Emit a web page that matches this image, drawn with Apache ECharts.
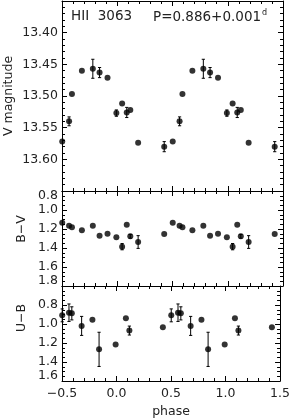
<!DOCTYPE html>
<html><head><meta charset="utf-8">
<script src="https://cdn.jsdelivr.net/npm/echarts@6/dist/echarts.min.js"></script>
<style>html,body{margin:0;padding:0;background:#fff}#c{width:293px;height:419px}</style>
</head><body><div id="c"></div>
<script>
// phase-folded points (each observation shown at phase and phase+1 where in range)
const phase = [-0.498,-0.436,-0.410,-0.320,-0.221,-0.160,-0.088,-0.008,0.044,0.086,0.118,0.189,0.425,
               0.502,0.564,0.590,0.680,0.779,0.840,0.912,0.992,1.044,1.086,1.118,1.189,1.425];
const vMag  = [13.572,13.540,13.497,13.460,13.457,13.463,13.471,13.527,13.512,13.526,13.522,13.574,13.580,
               13.572,13.540,13.497,13.460,13.457,13.463,13.471,13.527,13.512,13.526,13.522,13.574,13.580];
const vErr  = [0,0.007,0,0,0.015,0.008,0,0.005,0,0.008,0,0,0.008,
               0,0.007,0,0,0.015,0.008,0,0.005,0,0.008,0,0,0.008];
const bv    = [1.133,1.165,1.182,1.214,1.165,1.270,1.249,1.287,1.386,1.155,1.277,1.337,1.253,
               1.133,1.165,1.182,1.214,1.165,1.270,1.249,1.287,1.386,1.155,1.277,1.337,1.253];
const bvErr = [0,0,0,0,0,0,0,0,0.033,0,0.020,0.067,0,
               0,0,0,0,0,0,0,0,0.033,0,0.020,0.067,0];
const ub    = [0.909,0.881,0.888,1.020,0.954,1.267,null,1.215,null,0.940,1.069,null,1.034,
               0.909,0.881,0.888,1.020,0.954,1.267,null,1.215,null,0.940,1.069,null,1.034];
const ubErr = [0.068,0.092,0.069,0.100,0,0.180,0,0,0,0,0.047,0,0,
               0.068,0.092,0.069,0.100,0,0.180,0,0,0,0,0.047,0,0];
const phaseRange = [-0.5, 1.5, 0.5];
const vRange  = [13.35, 13.65, 0.05];
const bvRange = [0.8, 1.8, 0.2];
const ubRange = [0.6, 1.6, 0.2];
const yNames = ['V magnitude', 'B\u2212V', 'U\u2212B'];
const titleStar = 'HII  3063';
const titlePeriod = 'P=0.886+0.001';

const FONT = 'DejaVu Sans';
const TXT = '#222';
const chart = echarts.init(document.getElementById('c'), null, {renderer: 'canvas'});

const grids = [
  {left: 62, width: 221, top: 1, height: 190},
  {left: 62, width: 221, top: 191, height: 95},
  {left: 62, width: 221, top: 286, height: 96}
];
const lineStyle = {color: '#000', width: 1};

const xAxes = [];
grids.forEach((g, i) => {
  ['bottom', 'top'].forEach(pos => {
    xAxes.push({
      type: 'value', gridIndex: i, position: pos,
      min: phaseRange[0], max: phaseRange[1], interval: phaseRange[2],
      axisLine: {show: true, onZero: false, lineStyle},
      axisTick: {show: true, inside: true, length: 5, lineStyle},
      minorTick: {show: true, splitNumber: 5, length: 3, lineStyle},
      splitLine: {show: false},
      axisLabel: (i === 2 && pos === 'bottom') ? {
        show: true, margin: 6, color: TXT, fontFamily: FONT, fontSize: 12.5,
        formatter: v => v.toFixed(1).replace('-', '\u2212')
      } : {show: false},
      name: (i === 2 && pos === 'bottom') ? 'phase' : '',
      nameLocation: 'middle', nameGap: 24,
      nameTextStyle: {color: TXT, fontFamily: FONT, fontSize: 12.5}
    });
  });
});

const ranges = [vRange, bvRange, ubRange];
const yAxes = [];
grids.forEach((g, i) => {
  const r = ranges[i];
  ['left', 'right'].forEach(pos => {
    const lbl = pos === 'left';
    yAxes.push({
      type: 'value', gridIndex: i, position: pos, inverse: true,
      min: r[0], max: r[1], interval: r[2],
      axisLine: {show: true, onZero: false, lineStyle},
      axisTick: {show: true, inside: true, length: 5, lineStyle},
      minorTick: {show: true, splitNumber: i === 0 ? 5 : 4, length: 3, lineStyle},
      splitLine: {show: false},
      axisLabel: lbl ? {
        show: true, margin: 4, color: TXT, fontFamily: FONT, fontSize: 12.5, lineHeight: 10,
        formatter: v => v.toFixed(i === 0 ? 2 : 1),
        showMinLabel: i === 1, showMaxLabel: i !== 0,
        verticalAlignMinLabel: 'top', verticalAlignMaxLabel: 'bottom'
      } : {show: false}
    });
  });
});

// rotated y-axis titles (positions are layout only)
const yTitlePos = [[9, 96], [22, 229], [22, 318]];
const graphics = yNames.map((t, i) => ({
  type: 'text', x: yTitlePos[i][0], y: yTitlePos[i][1], rotation: Math.PI / 2,
  style: {text: t, font: '12.5px "DejaVu Sans"', fill: TXT,
          textAlign: 'center', textVerticalAlign: 'middle', align: 'center', verticalAlign: 'middle'}
}));

function pts(vals) {
  const out = [];
  phase.forEach((p, k) => { if (vals[k] !== null) out.push([p, vals[k]]); });
  return out;
}
function errs(vals, e) {
  const out = [];
  phase.forEach((p, k) => { if (vals[k] !== null && e[k] > 0) out.push([p, vals[k], e[k]]); });
  return out;
}
function errSeries(i, vals, e) {
  return {
    type: 'custom', xAxisIndex: 2 * i, yAxisIndex: 2 * i, z: 2,
    data: errs(vals, e), encode: {x: 0, y: 1},
    renderItem: (params, api) => {
      const x = api.value(0), y = api.value(1), d = api.value(2);
      const a = api.coord([x, y - d]), b = api.coord([x, y + d]);
      const w = 1.6;
      const st = {stroke: '#000', lineWidth: 1};
      return {type: 'group', children: [
        {type: 'line', shape: {x1: a[0], y1: a[1], x2: b[0], y2: b[1]}, style: st},
        {type: 'line', shape: {x1: a[0] - w, y1: a[1], x2: a[0] + w, y2: a[1]}, style: st},
        {type: 'line', shape: {x1: b[0] - w, y1: b[1], x2: b[0] + w, y2: b[1]}, style: st}
      ]};
    }
  };
}
function dotSeries(i, vals) {
  return {type: 'scatter', xAxisIndex: 2 * i, yAxisIndex: 2 * i, z: 3,
    symbol: 'circle', symbolSize: 6, itemStyle: {color: '#000'},
    data: pts(vals), silent: true, animation: false};
}

chart.setOption({
  animation: false,
  backgroundColor: '#fff',
  title: [
    {text: titleStar, left: 71, top: 9, padding: 0,
     textStyle: {color: TXT, fontFamily: FONT, fontSize: 13.5, fontWeight: 'normal'}},
    {text: titlePeriod + '{s|d}', left: 153, top: 9, padding: 0,
     textStyle: {color: TXT, fontFamily: FONT, fontSize: 13.5, fontWeight: 'normal',
       rich: {s: {fontSize: 8, fontFamily: FONT, color: TXT, verticalAlign: 'top', padding: [0, 0, 8, 1]}}}}
  ],
  graphic: graphics,
  grid: grids,
  xAxis: xAxes,
  yAxis: yAxes,
  series: [
    errSeries(0, vMag, vErr), dotSeries(0, vMag),
    errSeries(1, bv, bvErr), dotSeries(1, bv),
    errSeries(2, ub, ubErr), dotSeries(2, ub)
  ]
});
</script></body></html>
